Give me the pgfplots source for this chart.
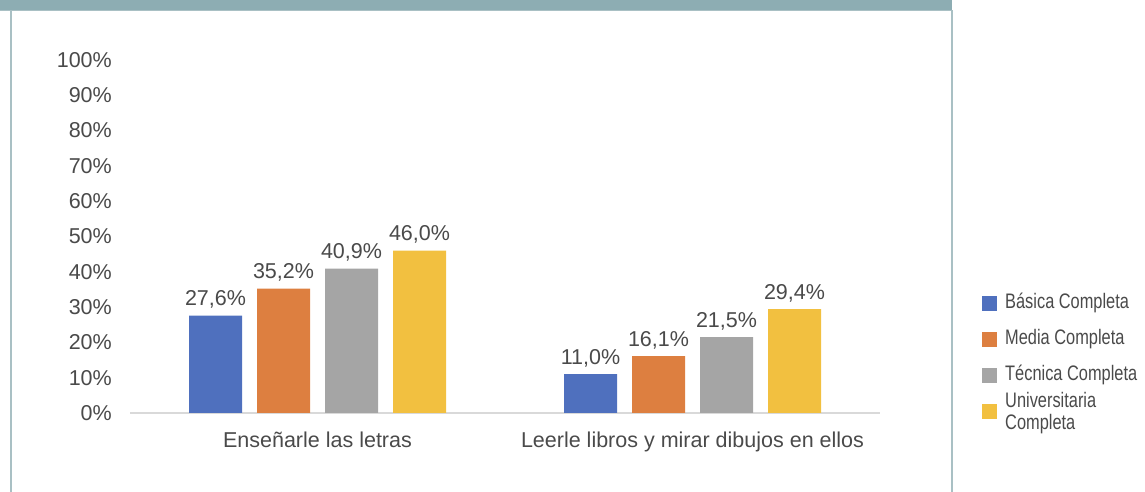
\documentclass[border=0pt]{standalone}
\usepackage{fontspec}
\setmainfont{Liberation Sans}
\newfontfamily\condfont[FakeStretch=0.78]{Liberation Sans}
\usepackage{pgfplots}
\pgfplotsset{compat=1.18}
\pgfkeys{/pgf/number format/assume math mode=true}
\definecolor{cblue}{HTML}{4F70BE}
\definecolor{corange}{HTML}{DD7F40}
\definecolor{cgrey}{HTML}{A5A5A5}
\definecolor{cyellow}{HTML}{F2C040}
\definecolor{textgrey}{HTML}{4A4A4A}
\definecolor{axgrey}{HTML}{D9D9D9}
\definecolor{band}{HTML}{8DADB3}
\definecolor{frame}{HTML}{A9C0C4}
\begin{document}
\begin{tikzpicture}[x=1pt,y=1pt]
\useasboundingbox (0,0) rectangle (1145,492);
\fill[band] (0,482) rectangle (952,492);
\draw[frame, line width=1pt] (0,481.5) -- (952,481.5);
\draw[frame, line width=1.2pt] (11,0) -- (11,482);
\draw[frame, line width=1.2pt] (952,0) -- (952,482);
\begin{axis}[
  at={(130pt,79pt)}, anchor=south west,
  scale only axis, width=750pt, height=353pt,
  xmin=-0.5, xmax=1.5, ymin=0, ymax=100,
  ybar=15pt, bar width=53pt,
  axis x line*=bottom, axis y line*=left,
  x axis line style={draw=axgrey, line width=1.2pt},
  y axis line style={draw=none},
  tick style={draw=none},
  xtick={0,1},
  xticklabels={Enseñarle las letras, Leerle libros y mirar dibujos en ellos},
  ytick={0,10,...,100},
  yticklabel={\pgfmathprintnumber{\tick}\%},
  ticklabel style={font=\fontsize{21.5}{25}\selectfont, text=textgrey},
  yticklabel style={inner sep=0pt, xshift=-18pt},
  xticklabel style={inner sep=0pt, yshift=-14pt},
  nodes near coords={\pgfmathprintnumber[fixed,fixed zerofill,precision=1,use comma]{\pgfplotspointmeta}\%},
  nodes near coords style={font=\fontsize{21.5}{25}\selectfont, text=textgrey, anchor=base, inner sep=0pt, yshift=10pt},
  legend cell align=left,
  legend image code/.code={\path[#1, draw=none] (0pt,-7.5pt) rectangle (15pt,7.5pt);},
  legend style={draw=none, fill=none, at={(rel axis cs:1.132,0.3455)}, anchor=north west,
    font=\condfont\fontsize{21}{22}\selectfont, text=textgrey,
    nodes={inner sep=0pt, text height=15pt, text depth=5pt},
    column sep=8pt, row sep=16pt},
]
\addplot[fill=cblue, draw=none] coordinates {(0,27.6) (1,11.0)};
\addplot[fill=corange, draw=none] coordinates {(0,35.2) (1,16.1)};
\addplot[fill=cgrey, draw=none] coordinates {(0,40.9) (1,21.5)};
\addplot[fill=cyellow, draw=none] coordinates {(0,46.0) (1,29.4)};
\legend{Básica Completa, Media Completa, Técnica Completa, {\raisebox{-3pt}{\begin{tabular}{@{}l@{}}Universitaria\\Completa\end{tabular}}}}
\end{axis}
\end{tikzpicture}
\end{document}
